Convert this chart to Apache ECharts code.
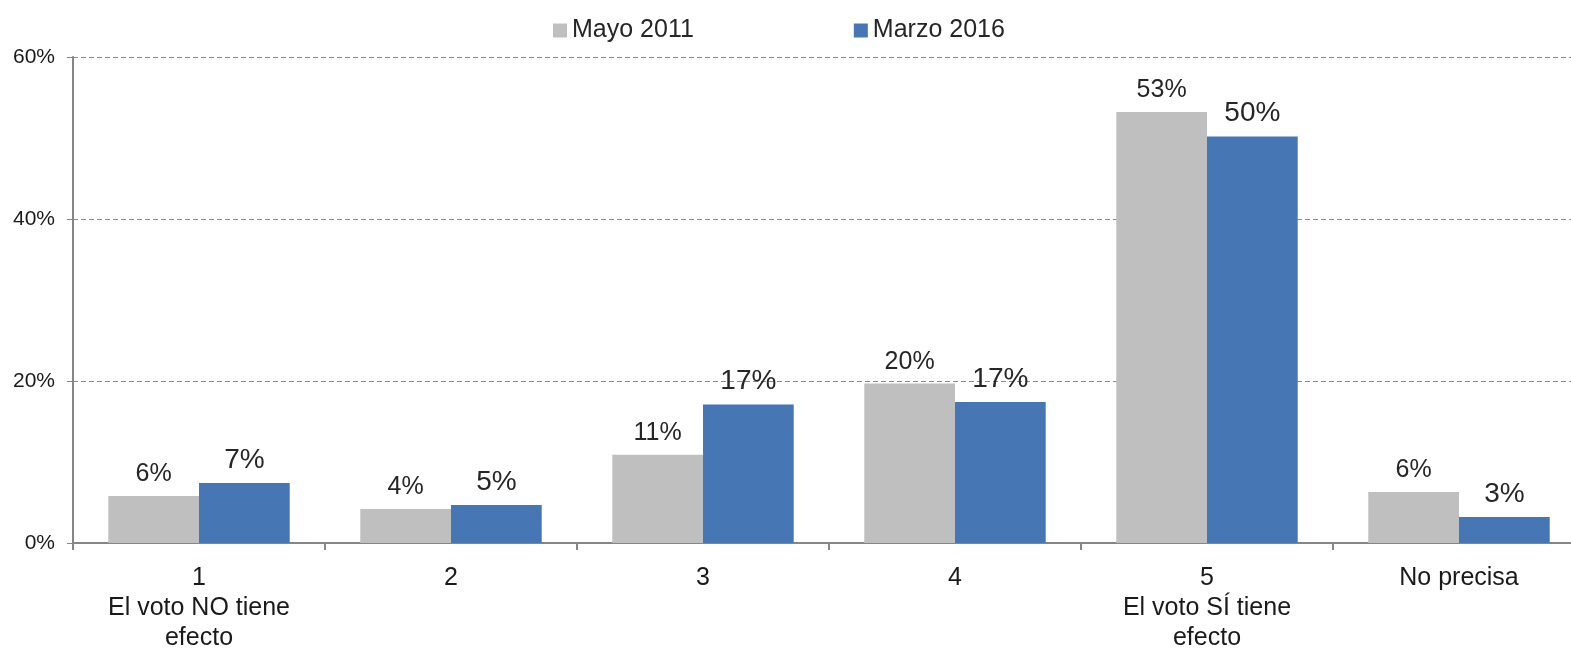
<!DOCTYPE html>
<html>
<head>
<meta charset="utf-8">
<script src="https://cdn.jsdelivr.net/npm/echarts@6/dist/echarts.min.js"></script>
<style>
    html, body {margin: 0; padding: 0; background: #fff;}
    #chart {width: 1571px; height: 648px;}
</style>
</head>
<body>
<div id="chart"></div>
<script>
const categories = ['1\nEl voto NO tiene\nefecto', '2', '3', '4', '5\nEl voto SÍ tiene\nefecto', 'No precisa'];
const mayo2011 = [5.8, 4.2, 10.9, 19.7, 53.2, 6.3];
const marzo2016 = [7.4, 4.7, 17.1, 17.4, 50.2, 3.2];
const mayoLabels = ['6%', '4%', '11%', '20%', '53%', '6%'];
const marzoLabels = ['7%', '5%', '17%', '17%', '50%', '3%'];
const yTicks = [0, 20, 40, 60];

const font = 'Liberation Sans, Arial, sans-serif';
const chart = echarts.init(document.getElementById('chart'));
chart.setOption({
    animation: false
    , textStyle: {fontFamily: font}
    , legend: {
        left: 548
        , top: 13
        , itemWidth: 14
        , itemHeight: 14
        , itemGap: 160
        , icon: 'rect'
        , textStyle: {fontSize: 25, color: '#262626', fontFamily: font}
        , data: ['Mayo 2011', 'Marzo 2016']
    }
    , grid: {left: 73, top: 57, width: 1512, height: 486, outerBoundsMode: 'none', containLabel: false}
    , xAxis: {
        type: 'category'
        , data: categories
        , axisLine: {lineStyle: {color: '#868686', width: 2}}
        , axisTick: {show: true, length: 7, lineStyle: {color: '#868686', width: 2}}
        , axisLabel: {fontSize: 25, color: '#1a1a1a', lineHeight: 30, margin: 20, interval: 0}
    }
    , yAxis: {
        type: 'value'
        , min: yTicks[0]
        , max: yTicks[yTicks.length - 1]
        , interval: 20
        , axisLine: {show: true, lineStyle: {color: '#868686', width: 2}}
        , axisTick: {show: true, length: 6, lineStyle: {color: '#868686', width: 1}}
        , axisLabel: {fontSize: 21, color: '#1a1a1a', margin: 18, formatter: '{value}%'}
        , splitLine: {lineStyle: {color: '#8c8c8c', type: [5, 3], width: 1}}
    }
    , series: [
        {
            name: 'Mayo 2011'
            , type: 'bar'
            , data: mayo2011
            , barGap: '0%'
            , barCategoryGap: '28%'
            , itemStyle: {color: '#bfbfbf'}
            , label: {
                show: true
                , position: 'top'
                , distance: 9
                , fontSize: 25
                , color: '#262626'
                , formatter: function (p) { return mayoLabels[p.dataIndex]; }
            }
        }
        , {
            name: 'Marzo 2016'
            , type: 'bar'
            , data: marzo2016
            , itemStyle: {color: '#4677b4'}
            , label: {
                show: true
                , position: 'top'
                , distance: 9
                , fontSize: 28
                , color: '#262626'
                , formatter: function (p) { return marzoLabels[p.dataIndex]; }
            }
        }
    ]
});
</script>
</body>
</html>
